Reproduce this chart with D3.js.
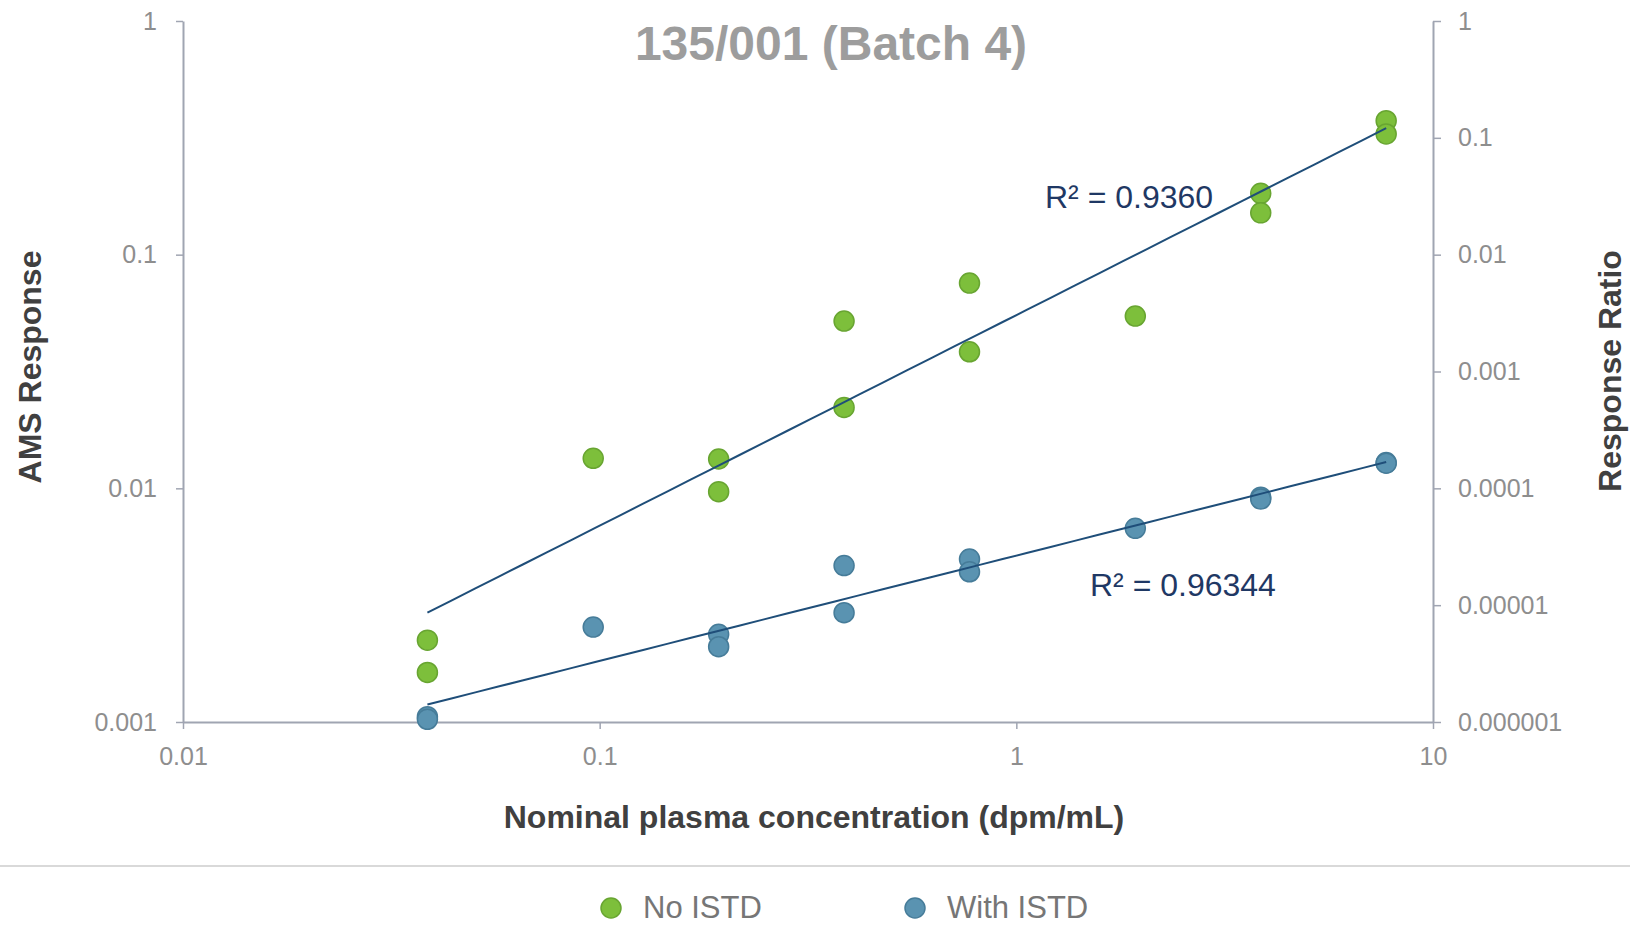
<!DOCTYPE html>
<html>
<head>
<meta charset="utf-8">
<script src="https://cdn.jsdelivr.net/npm/d3@7"></script>
<style>
  html, body { margin: 0; padding: 0; background: #ffffff; }
  svg { display: block; font-family: "Liberation Sans", Arial, Helvetica, sans-serif; }
</style>
</head>
<body>
<svg id="chart" width="1630" height="925"></svg>
<script>
// Nominal plasma concentrations (dpm/mL), one entry per replicate
const concentration = [0.0386, 0.0386, 0.0965, 0.193, 0.193, 0.386, 0.386, 0.772, 0.772, 1.93, 3.86, 3.86, 7.72, 7.72];

// AMS response without internal standard (left axis)
const noIstd = [0.00224, 0.00163, 0.01344, 0.01335, 0.00968, 0.0520, 0.0222, 0.0756, 0.0384, 0.0546, 0.183, 0.151, 0.3745, 0.3285];

// Response ratio with internal standard (right axis)
const withIstd = [1.11e-6, 1.054e-6, 6.50e-6, 5.63e-6, 4.41e-6, 2.18e-5, 8.62e-6, 2.48e-5, 1.93e-5, 4.55e-5, 8.4e-5, 8.1e-5, 1.66e-4, 1.64e-4];

// Axis tick values and their labels
const xTicks = [0.01, 0.1, 1, 10];
const xTickLabels = ["0.01", "0.1", "1", "10"];
const yLeftTicks = [0.001, 0.01, 0.1, 1];
const yLeftTickLabels = ["0.001", "0.01", "0.1", "1"];
const yRightTicks = [1e-6, 1e-5, 1e-4, 1e-3, 1e-2, 1e-1, 1];
const yRightTickLabels = ["0.000001", "0.00001", "0.0001", "0.001", "0.01", "0.1", "1"];

// Fit quality labels for the power trendlines
const r2Labels = ["R\u00B2 = 0.9360", "R\u00B2 = 0.96344"];

const seriesNames = ["No ISTD", "With ISTD"];
const titleText = "135/001 (Batch 4)";

const svg = d3.select("#chart");
const W = 1630, H = 925;
const plot = { left: 183, right: 1433, top: 21, bottom: 722 };

const axisColor = "#a0a5b2";
const tickTextColor = "#8e8e8e";
const greenFill = "#7dbf3b", greenStroke = "#68a531";
const blueFill = "#5a93b1", blueStroke = "#467c99";
const trendColor = "#1f4e79";

const x = d3.scaleLog().domain([0.01, 10]).range([plot.left, plot.right]);
const yL = d3.scaleLog().domain([0.001, 1]).range([plot.bottom, plot.top]);
const yR = d3.scaleLog().domain([1e-6, 1]).range([plot.bottom, plot.top]);

function labelFor(ticks, labels) {
  return v => labels[ticks.findIndex(t => Math.abs(Math.log10(t) - Math.log10(v)) < 1e-9)];
}

function styleAxis(g) {
  g.select(".domain").attr("stroke", axisColor).attr("stroke-width", 2);
  g.selectAll(".tick line").attr("stroke", axisColor).attr("stroke-width", 1.5);
  g.selectAll(".tick text")
    .attr("fill", tickTextColor)
    .style("font-size", "25px")
    .style("font-family", "\"Liberation Sans\", Arial, sans-serif");
}

// Axes
svg.append("g")
  .attr("transform", `translate(0,${plot.bottom})`)
  .call(d3.axisBottom(x).tickValues(xTicks).tickFormat(labelFor(xTicks, xTickLabels))
    .tickSize(7).tickSizeOuter(0).tickPadding(18))
  .call(styleAxis);

svg.append("g")
  .attr("transform", `translate(${plot.left},0)`)
  .call(d3.axisLeft(yL).tickValues(yLeftTicks).tickFormat(labelFor(yLeftTicks, yLeftTickLabels))
    .tickSize(7).tickSizeOuter(0).tickPadding(19))
  .call(styleAxis);

svg.append("g")
  .attr("transform", `translate(${plot.right},0)`)
  .call(d3.axisRight(yR).tickValues(yRightTicks).tickFormat(labelFor(yRightTicks, yRightTickLabels))
    .tickSize(8).tickSizeOuter(0).tickPadding(17))
  .call(styleAxis);

// Data points
const greenPts = concentration.map((c, i) => ({ c, v: noIstd[i] }));
const bluePts = concentration.map((c, i) => ({ c, v: withIstd[i] }));

svg.append("g").selectAll("circle").data(greenPts).join("circle")
  .attr("cx", d => x(d.c)).attr("cy", d => yL(d.v)).attr("r", 10)
  .attr("fill", greenFill).attr("stroke", greenStroke).attr("stroke-width", 1.5);

svg.append("g").selectAll("circle").data(bluePts).join("circle")
  .attr("cx", d => x(d.c)).attr("cy", d => yR(d.v)).attr("r", 10)
  .attr("fill", blueFill).attr("stroke", blueStroke).attr("stroke-width", 1.5);

// Power trendlines: least squares in log10-log10 space
function powerFit(xs, ys) {
  const lx = xs.map(Math.log10), ly = ys.map(Math.log10);
  const mx = d3.mean(lx), my = d3.mean(ly);
  let sxy = 0, sxx = 0;
  lx.forEach((v, i) => { sxy += (v - mx) * (ly[i] - my); sxx += (v - mx) * (v - mx); });
  const b = sxy / sxx, a = my - b * mx;
  return xv => Math.pow(10, a + b * Math.log10(xv));
}

const xExtent = d3.extent(concentration);
const fitGreen = powerFit(concentration, noIstd);
const fitBlue = powerFit(concentration, withIstd);
const xSamples = d3.range(0, 41).map(i => Math.pow(10, Math.log10(xExtent[0]) + i / 40 * (Math.log10(xExtent[1]) - Math.log10(xExtent[0]))));

const line = (fit, yScale) => d3.line().x(d => x(d)).y(d => yScale(fit(d)));

svg.append("path").datum(xSamples).attr("d", line(fitGreen, yL))
  .attr("fill", "none").attr("stroke", trendColor).attr("stroke-width", 2);
svg.append("path").datum(xSamples).attr("d", line(fitBlue, yR))
  .attr("fill", "none").attr("stroke", trendColor).attr("stroke-width", 2);

// R² annotations
svg.append("text").attr("x", 1045).attr("y", 208).text(r2Labels[0])
  .attr("fill", "#1f3864").style("font-size", "32px");
svg.append("text").attr("x", 1090).attr("y", 596).text(r2Labels[1])
  .attr("fill", "#1f3864").style("font-size", "32px");

// Title
svg.append("text").attr("x", 831).attr("y", 60).attr("text-anchor", "middle")
  .text(titleText).attr("fill", "#9d9d9d").style("font-size", "48px").style("font-weight", "bold");

// Axis titles
svg.append("text").attr("x", 814).attr("y", 828).attr("text-anchor", "middle")
  .text("Nominal plasma concentration (dpm/mL)")
  .attr("fill", "#404040").style("font-size", "32px").style("font-weight", "bold");

svg.append("text").attr("transform", "translate(41,367) rotate(-90)").attr("text-anchor", "middle")
  .text("AMS Response").attr("fill", "#404040").style("font-size", "32px").style("font-weight", "bold");

svg.append("text").attr("transform", "translate(1621,371) rotate(-90)").attr("text-anchor", "middle")
  .text("Response Ratio").attr("fill", "#404040").style("font-size", "32px").style("font-weight", "bold");

// Legend
svg.append("line").attr("x1", 0).attr("x2", W).attr("y1", 866).attr("y2", 866)
  .attr("stroke", "#d9d9d9").attr("stroke-width", 2);

const legendItems = [
  { name: seriesNames[0], fill: greenFill, stroke: greenStroke, cx: 611 },
  { name: seriesNames[1], fill: blueFill, stroke: blueStroke, cx: 915 }
];
const lg = svg.append("g").selectAll("g").data(legendItems).join("g");
lg.append("circle").attr("cx", d => d.cx).attr("cy", 908).attr("r", 10)
  .attr("fill", d => d.fill).attr("stroke", d => d.stroke).attr("stroke-width", 1.5);
lg.append("text").attr("x", d => d.cx + 32).attr("y", 918).text(d => d.name)
  .attr("fill", "#767676").style("font-size", "31px");
</script>
</body>
</html>
